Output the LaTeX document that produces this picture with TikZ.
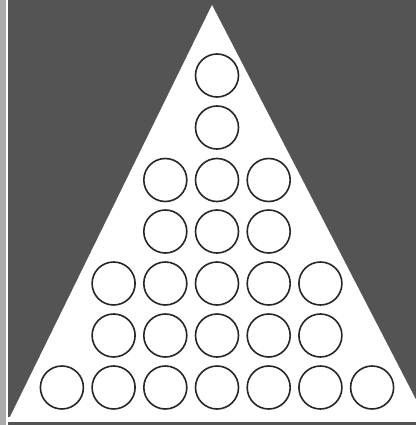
\documentclass[tikz,border=0pt]{standalone}
\usepackage{tikz}
\definecolor{board}{HTML}{545454}
\definecolor{rim}{HTML}{ABABAB}

\begin{document}
\begin{tikzpicture}[x=1pt,y=-1pt,hole/.style={draw=black!85,circle,line width=1.6pt,minimum size=43pt,inner sep=0pt,fill=white}]
\useasboundingbox (0,0) rectangle (416,425);
\clip (0,0) rectangle (416,425);
\fill[rim] (0,0) rectangle (6,425);
\fill[white] (6,0) rectangle (8,425);
\fill[board] (8,0) rectangle (416,425);
\fill[white] (212,5) -- (427,421) -- (8,421) -- cycle;
\fill[white] (8,417) rectangle (416,421.5);
% holes, row by row (y, number of holes)
\foreach \y/\n [count=\r] in {75.5/1,127.5/1,180/3,231.5/3,283.5/5,335.5/5,387.5/7}{
  \pgfmathtruncatemacro{\h}{(\n-1)/2}
  \foreach \k in {-\h,...,\h}{
    \node[hole] (c-\r-\k) at (217+51.7*\k,\y) {};
  }
}
\end{tikzpicture}
\end{document}
